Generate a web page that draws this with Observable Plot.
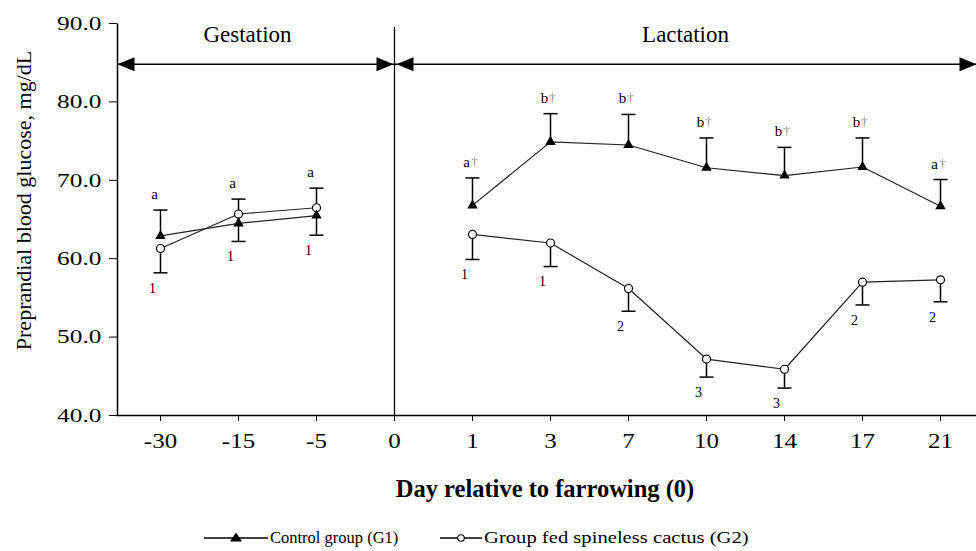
<!DOCTYPE html>
<html><head><meta charset="utf-8">
<script src="https://cdn.jsdelivr.net/npm/d3@7"></script>
<script src="https://cdn.jsdelivr.net/npm/@observablehq/plot@0.6"></script>
<style>
html,body{margin:0;padding:0;background:#fff;overflow:hidden;}
#wrap{position:relative;width:976px;height:551px;font-family:"Liberation Serif",serif;color:#000;}
#xtitle{position:absolute;left:545px;top:489px;transform:translate(-50%,-50%);font-weight:bold;font-size:24.5px;white-space:nowrap;}
.leg{position:absolute;top:538px;transform:translateY(-50%);display:flex;align-items:center;font-size:16.5px;white-space:nowrap;}
.leg svg{display:block;margin-right:2px;}
.leg span{display:inline-block;transform-origin:left center;}
</style></head><body>
<div id="wrap"><div id="chart"></div><div id="xtitle"></div><div id="legend"></div></div>
<script>
// ---------- data ----------
const days = ["-30","-15","-5","0","1","3","7","10","14","17","21"];
const sampleDays = ["-30","-15","-5","1","3","7","10","14","17","21"];
const phases = ["Gestation","Gestation","Gestation","Lactation","Lactation","Lactation","Lactation","Lactation","Lactation","Lactation"];
const controlMean  = [62.9, 64.5, 65.5, 66.8, 74.9, 74.5, 71.6, 70.6, 71.7, 66.7];
const controlUpper = [66.2, 67.6, 69.0, 70.3, 78.5, 78.4, 75.4, 74.2, 75.4, 70.1];
const cactusMean   = [61.3, 65.7, 66.5, 63.1, 62.0, 56.2, 47.2, 45.9, 57.0, 57.3];
const cactusLower  = [58.2, 62.2, 63.0, 59.9, 59.0, 53.3, 44.9, 43.5, 54.1, 54.5];
const controlLetters = ["a","a","a","a","b","b","b","b","b","a"];
const controlDaggers = ["","","","†","†","†","†","†","†","†"];
const cactusLabels = ["1","1","1","1","1","2","3","3","2","2"];
const yTicks = [40, 50, 60, 70, 80, 90];
const arrowLevel = 84.8;
const dividerTop = 89.5;
const phaseLabelLevel = 87.7;
const seriesNames = ["Control group (G1)", "Group fed spineless cactus (G2)"];
const yLabel = "Preprandial blood glucose, mg/dL";
const xLabel = "Day relative to farrowing (0)";

// ---------- build ----------
const rows = sampleDays.map((d, i) => ({
  day: d, phase: phases[i],
  ctrl: controlMean[i], ctrlHi: controlUpper[i],
  cac: cactusMean[i], cacLo: cactusLower[i],
  letter: controlLetters[i], dagger: controlDaggers[i], digit: cactusLabels[i]
}));

const arrowRight = {draw(ctx){ctx.moveTo(0,0);ctx.lineTo(-17,-7);ctx.lineTo(-17,7);ctx.closePath();}};
const arrowLeft  = {draw(ctx){ctx.moveTo(0,0);ctx.lineTo(17,-7);ctx.lineTo(17,7);ctx.closePath();}};
const capSym     = {draw(ctx){ctx.moveTo(-7,0);ctx.lineTo(7,0);}};

const W = 976, H = 470, mL = 117, mR = 0, mT = 23, mB = 55;
const fw = W - mL - mR, fh = H - mT - mB;

const chart = Plot.plot({
  width: W, height: H,
  marginLeft: mL, marginRight: mR, marginTop: mT, marginBottom: mB,
  style: {fontFamily: "Liberation Serif", fontSize: "19.5px", color: "black", background: "white", overflow: "hidden"},
  x: {type: "point", domain: days, padding: 0.5, range: [mL, 983], tickSize: 6, tickPadding: 12, label: null},
  y: {domain: [40, 90], ticks: yTicks, tickFormat: d => d.toFixed(1), tickSize: 8, tickPadding: 8, label: null},
  marks: [
    Plot.frame({stroke: "black", strokeWidth: 1.5, strokeDasharray: `0 ${fw + fh} ${fw + fh}`}),
    Plot.ruleX(["0"], {y1: 40, y2: dividerTop, stroke: "black", strokeWidth: 1.3}),
    Plot.ruleY([arrowLevel], {stroke: "black", strokeWidth: 1.5}),
    Plot.dot([arrowLevel], {y: d => d, frameAnchor: "left", symbol: arrowLeft, fill: "black", stroke: "none"}),
    Plot.dot([{day: "0", v: arrowLevel}], {x: "day", y: "v", symbol: arrowRight, fill: "black", stroke: "none", dx: -1}),
    Plot.dot([{day: "0", v: arrowLevel}], {x: "day", y: "v", symbol: arrowLeft, fill: "black", stroke: "none", dx: 2}),
    Plot.dot([arrowLevel], {y: d => d, frameAnchor: "right", symbol: arrowRight, fill: "black", stroke: "none"}),
    Plot.text([{day: "-15", v: phaseLabelLevel, t: "Gestation"}], {x: "day", y: "v", text: "t", dx: 9, lineAnchor: "bottom", fontSize: 23, ariaLabel: "phase"}),
    Plot.text([{day: "10", v: phaseLabelLevel, t: "Lactation"}], {x: "day", y: "v", text: "t", dx: -21, lineAnchor: "bottom", fontSize: 23, ariaLabel: "phase"}),
    Plot.text([yLabel], {frameAnchor: "left", textAnchor: "middle", rotate: -90, dx: -94, dy: -19, fontSize: 22, ariaLabel: "ylabel"}),
    // error bars
    Plot.ruleX(rows, {x: "day", y1: "ctrl", y2: "ctrlHi", stroke: "black", strokeWidth: 1.5}),
    Plot.dot(rows, {x: "day", y: "ctrlHi", symbol: capSym, fill: "none", stroke: "black", strokeWidth: 1.5}),
    Plot.ruleX(rows, {x: "day", y1: "cac", y2: "cacLo", stroke: "black", strokeWidth: 1.5}),
    Plot.dot(rows, {x: "day", y: "cacLo", symbol: capSym, fill: "none", stroke: "black", strokeWidth: 1.5}),
    // lines
    Plot.line(rows, {x: "day", y: "ctrl", z: "phase", stroke: "#222", strokeWidth: 1.2}),
    Plot.line(rows, {x: "day", y: "cac", z: "phase", stroke: "#222", strokeWidth: 1.2}),
    // markers
    Plot.dot(rows, {x: "day", y: "cac", r: 4, fill: "white", stroke: "black", strokeWidth: 1.2}),
    Plot.dot(rows, {x: "day", y: "ctrl", r: 5, symbol: "triangle2", fill: "black", stroke: "none"}),
    // significance labels
    Plot.text(rows, {x: "day", y: "ctrlHi", text: "letter", dx: -6, dy: -11, lineAnchor: "bottom", fontSize: 15, fill: "black"}),
    Plot.text(rows, {x: "day", y: "ctrlHi", text: "dagger", dx: 2, dy: -12, lineAnchor: "bottom", fontSize: 13, fill: "#888"}),
    Plot.text(rows, {x: "day", y: "cacLo", text: "digit", dx: -8, dy: 10, lineAnchor: "top", fontSize: 14, fill: "black"})
  ]
});
document.getElementById("chart").appendChild(chart);

// tick label sizing and slight horizontal stretch of the serif face
chart.querySelectorAll('[aria-label^="x-axis"] text').forEach(t => t.setAttribute("font-size", "20"));
chart.querySelectorAll('[aria-label^="y-axis"] text').forEach(t => t.setAttribute("font-size", "19.5"));
function stretch(sel, k) {
  chart.querySelectorAll(sel).forEach(t => {
    const w = t.getComputedTextLength();
    if (w > 0) { t.setAttribute("textLength", (w * k).toFixed(1)); t.setAttribute("lengthAdjust", "spacingAndGlyphs"); }
  });
}
stretch('[aria-label^="x-axis"] text', 1.25);
stretch('[aria-label^="y-axis"] text', 1.3);
stretch('[aria-label="phase"] text', 1.2);

document.getElementById("xtitle").textContent = xLabel;

// legend
const leg = document.getElementById("legend");
const legItems = [
  {name: seriesNames[0], left: 204, w: 64, sx: 1, sym: '<path d="M32,2.5 L38,11.5 L26,11.5 Z" fill="black"/>'},
  {name: seriesNames[1], left: 440, w: 42, sx: 1.25, sym: '<circle cx="21" cy="8" r="3.3" fill="white" stroke="black" stroke-width="1.1"/>'}
];
legItems.forEach(it => {
  const d = document.createElement("div");
  d.className = "leg"; d.style.left = it.left + "px";
  d.innerHTML = `<svg width="${it.w}" height="16"><line x1="0" x2="${it.w}" y1="8" y2="8" stroke="black" stroke-width="1.4"/>${it.sym}</svg>`;
  const s = document.createElement("span"); s.textContent = it.name; s.style.transform = `scaleX(${it.sx})`; d.appendChild(s);
  leg.appendChild(d);
});
</script>
</body></html>
